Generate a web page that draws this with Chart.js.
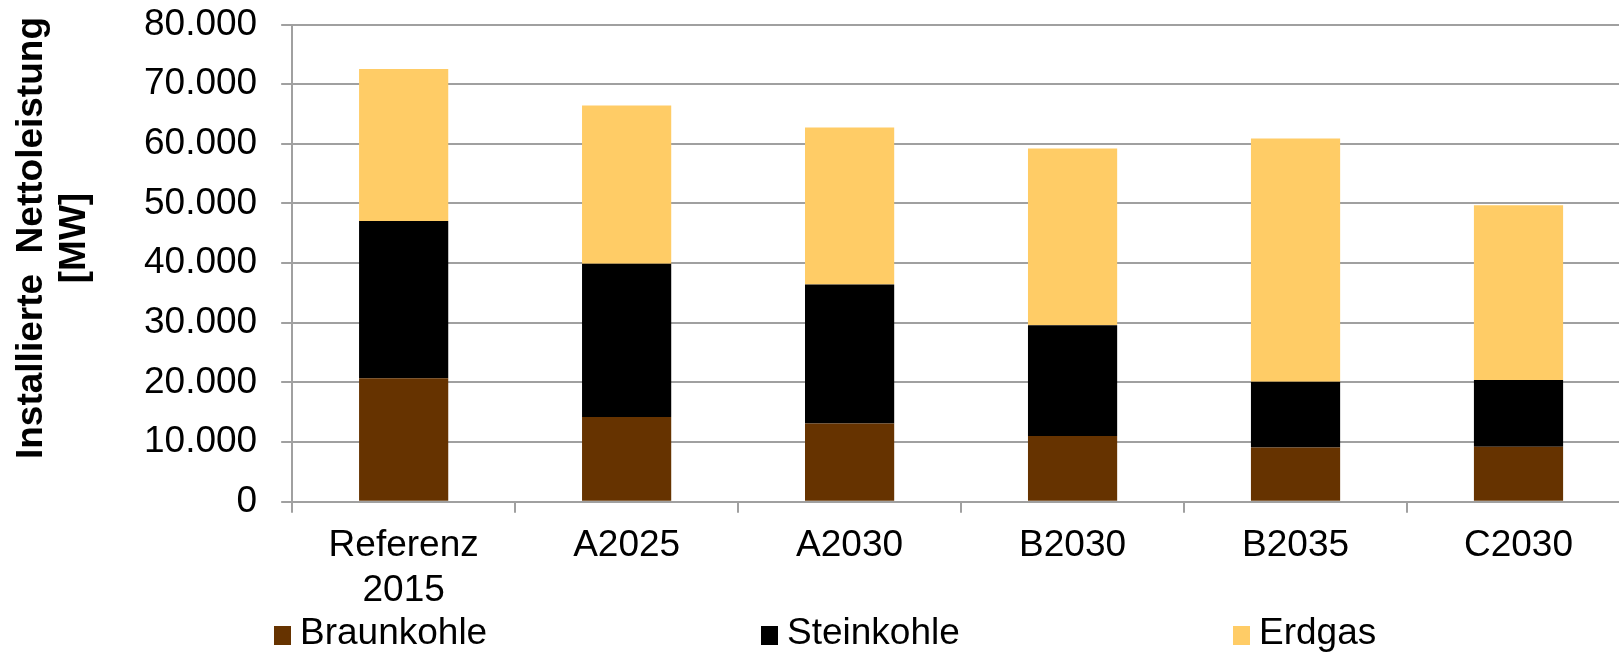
<!DOCTYPE html>
<html>
<head>
<meta charset="utf-8">
<script src="https://cdn.jsdelivr.net/npm/chart.js@4.4.1/dist/chart.umd.min.js"></script>
<style>
    html, body { margin: 0; padding: 0; background: #fff; overflow: hidden; }
    #wrap { position: relative; width: 1632px; height: 653px; }
    #overlay { position: absolute; left: 0; top: 0; width: 100%; height: 100%; pointer-events: none; }
    .lg-box { position: absolute; width: 17px; height: 19px; }
    .lg-text { position: absolute; font: 37px "Liberation Sans", Arial, sans-serif; line-height: 40px; color: #000; white-space: nowrap; }
    #ytitle {
        position: absolute; width: 500px; height: 86px;
        left: -199px; top: 194.5px;
        transform: rotate(-90deg);
        font: bold 37px "Liberation Sans", Arial, sans-serif; line-height: 43px;
        text-align: center; color: #000; white-space: pre;
    }
</style>
</head>
<body>
<div id="wrap">
    <canvas id="barChart" width="1632" height="653"></canvas>
    <div id="overlay"></div>
</div>
<script>
    const categories = [['Referenz', '2015'], 'A2025', 'A2030', 'B2030', 'B2035', 'C2030'];
    const seriesNames = ['Braunkohle', 'Steinkohle', 'Erdgas'];
    const braunkohle = [20700, 14200, 13100, 11000, 9100, 9200];
    const steinkohle = [26350, 25700, 23300, 18600, 11000, 11200];
    const erdgas = [25500, 26500, 26350, 29600, 40800, 29300];
    const yTicks = [0, 10000, 20000, 30000, 40000, 50000, 60000, 70000, 80000];
    const yTitle = ['Installierte  Nettoleistung', '[MW]'];

    const colors = ['#663300', '#000000', '#ffcc66'];
    const gridColor = '#a0a0a0';
    const fontFamily = '"Liberation Sans", Arial, sans-serif';

    // 80000 -> "80.000"
    function fmt(v) {
        return String(v).replace(/\B(?=(\d{3})+(?!\d))/g, '.');
    }

    const data = {
        labels: categories,
        datasets: [
            { label: seriesNames[0], data: braunkohle, backgroundColor: colors[0] },
            { label: seriesNames[1], data: steinkohle, backgroundColor: colors[1] },
            { label: seriesNames[2], data: erdgas, backgroundColor: colors[2] }
        ]
    };

    const myChart = new Chart(document.getElementById('barChart'), {
        type: 'bar',
        data: data,
        options: {
            responsive: false,
            animation: false,
            layout: { padding: { left: 120, top: 24.5, right: 2, bottom: 29.5 } },
            datasets: {
                bar: { barPercentage: 0.4, categoryPercentage: 1, borderWidth: 0 }
            },
            scales: {
                x: {
                    stacked: true,
                    grid: {
                        offset: true,
                        drawOnChartArea: false,
                        drawTicks: true,
                        tickLength: 11,
                        color: gridColor,
                        lineWidth: 2
                    },
                    border: { display: true, color: gridColor, width: 2 },
                    ticks: {
                        color: '#000',
                        font: { family: fontFamily, size: 37, lineHeight: 1.2 },
                        padding: 11,
                        maxRotation: 0,
                        autoSkip: false
                    }
                },
                y: {
                    stacked: true,
                    min: 0,
                    max: 80000,
                    afterBuildTicks: function (axis) {
                        axis.ticks = yTicks.map(function (v) { return { value: v }; });
                    },
                    // top label may overhang into the layout padding
                    afterFit: function (scale) {
                        scale.paddingTop = 0;
                    },
                    grid: { color: gridColor, lineWidth: 2, tickLength: 11 },
                    border: { display: true, color: gridColor, width: 2 },
                    ticks: {
                        color: '#000',
                        font: { family: fontFamily, size: 37, lineHeight: 1.2 },
                        padding: 24,
                        callback: function (v) { return fmt(v); }
                    }
                }
            },
            plugins: {
                legend: { display: false },
                tooltip: { enabled: false }
            }
        }
    });

    const overlay = document.getElementById('overlay');

    // rotated axis title, both lines centred on each other
    const title = document.createElement('div');
    title.id = 'ytitle';
    title.textContent = yTitle.join('\n');
    overlay.appendChild(title);

    // legend below the chart, one fixed column per series
    const legendX = [274, 761, 1233];
    myChart.data.datasets.forEach(function (ds, i) {
        const box = document.createElement('div');
        box.className = 'lg-box';
        box.style.left = legendX[i] + 'px';
        box.style.top = '626px';
        box.style.background = ds.backgroundColor;
        overlay.appendChild(box);
        const txt = document.createElement('div');
        txt.className = 'lg-text';
        txt.style.left = (legendX[i] + 26) + 'px';
        txt.style.top = '612px';
        txt.textContent = ds.label;
        overlay.appendChild(txt);
    });
</script>
</body>
</html>
